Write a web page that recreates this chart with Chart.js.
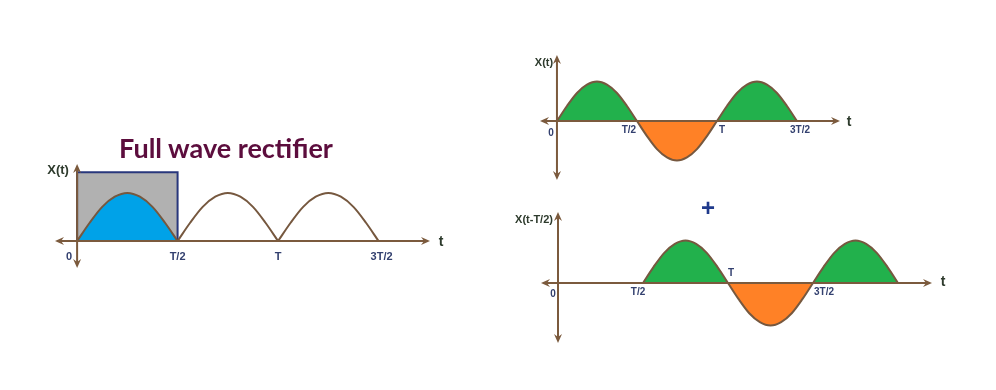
<!DOCTYPE html>
<html>
<head>
<meta charset="utf-8">
<title>Full wave rectifier</title>
<script src="https://cdn.jsdelivr.net/npm/chart.js@4.4.1/dist/chart.umd.min.js"></script>
<style>
  body { margin: 0; background: #fff; }
  #quadro { position: relative; width: 996px; height: 390px; overflow: hidden; }
  #quadro canvas { position: absolute; left: 0; top: 0; }
  .titulo {
    position: absolute; left: 226px; top: 133px; transform: translateX(-50%);
    font: bold 27px Lato, 'Liberation Sans', sans-serif; color: #5c0d3d;
    white-space: nowrap; line-height: 30px;
  }
  .mais {
    position: absolute; left: 708px; top: 208px; transform: translate(-50%, -50%);
    font: bold 24px 'Liberation Sans', sans-serif; color: #1f3a8c; line-height: 24px;
  }
</style>
</head>
<body>
<div id="quadro">
  <canvas id="chartRetificador" width="996" height="390"></canvas>
  <canvas id="chartSinal" width="996" height="390"></canvas>
  <canvas id="chartDeslocado" width="996" height="390"></canvas>
  <div class="titulo">Full wave rectifier</div>
  <div class="mais">+</div>
</div>
<script>
// tempo em unidades de T, de T/16 em T/16
const tempos = [0, 0.0625, 0.125, 0.1875, 0.25, 0.3125, 0.375, 0.4375, 0.5,
  0.5625, 0.625, 0.6875, 0.75, 0.8125, 0.875, 0.9375, 1,
  1.0625, 1.125, 1.1875, 1.25, 1.3125, 1.375, 1.4375, 1.5];
const retificado = [0, 0.38, 0.71, 0.92, 1, 0.92, 0.71, 0.38, 0,
  0.38, 0.71, 0.92, 1, 0.92, 0.71, 0.38, 0,
  0.38, 0.71, 0.92, 1, 0.92, 0.71, 0.38, 0];
const senoide = [0, 0.38, 0.71, 0.92, 1, 0.92, 0.71, 0.38, 0,
  -0.38, -0.71, -0.92, -1, -0.92, -0.71, -0.38, 0,
  0.38, 0.71, 0.92, 1, 0.92, 0.71, 0.38, 0];
const temposDeslocados = [0.5, 0.5625, 0.625, 0.6875, 0.75, 0.8125, 0.875, 0.9375, 1,
  1.0625, 1.125, 1.1875, 1.25, 1.3125, 1.375, 1.4375, 1.5,
  1.5625, 1.625, 1.6875, 1.75, 1.8125, 1.875, 1.9375, 2];
const senoideDeslocada = [0, 0.38, 0.71, 0.92, 1, 0.92, 0.71, 0.38, 0,
  -0.38, -0.71, -0.92, -1, -0.92, -0.71, -0.38, 0,
  0.38, 0.71, 0.92, 1, 0.92, 0.71, 0.38, 0];
// janela de meio periodo (retangulo cinza)
const janelaX = [0, 0, 0.5, 0.5];
const janelaY = [0, 1.43, 1.43, 0];
const tickValores = [0, 0.5, 1, 1.5];
const tickRotulos = ['0', 'T/2', 'T', '3T/2'];

const marrom = '#7b5a3d';
const corCurva = '#76583f';
const verde = '#22b14c';
const laranja = '#ff8126';
const azul = '#00a2e8';
const cinza = '#b1b1b1';
const marinho = '#28377c';
const corTick = '#33406f';
const corNome = '#2e3b2d';

function pontos(xs, ys) {
  return xs.map(function (x, i) { return { x: x, y: ys[i] }; });
}

function seta(ctx, px, py, dx, dy) {
  // ponta em (px, py) apontando na direcao (dx, dy)
  const nx = -dy, ny = dx;
  ctx.beginPath();
  ctx.moveTo(px, py);
  ctx.lineTo(px - dx * 9 + nx * 4, py - dy * 9 + ny * 4);
  ctx.lineTo(px - dx * 6, py - dy * 6);
  ctx.lineTo(px - dx * 9 - nx * 4, py - dy * 9 - ny * 4);
  ctx.closePath();
  ctx.fill();
}

const eixosPlugin = {
  id: 'eixos',
  afterDatasetsDraw(chart, args, opts) {
    const ctx = chart.ctx;
    const area = chart.chartArea;
    const x = chart.scales.x;
    const y = chart.scales.y;
    const x0 = x.getPixelForValue(0);
    const y0 = y.getPixelForValue(0);

    ctx.save();
    ctx.strokeStyle = marrom;
    ctx.fillStyle = marrom;
    ctx.lineWidth = 2;
    ctx.beginPath();
    ctx.moveTo(area.left + 4, y0);
    ctx.lineTo(area.right - 4, y0);
    ctx.moveTo(x0, area.top + 4);
    ctx.lineTo(x0, area.bottom - 4);
    ctx.stroke();
    seta(ctx, area.left, y0, -1, 0);
    seta(ctx, area.right, y0, 1, 0);
    seta(ctx, x0, area.top, 0, -1);
    seta(ctx, x0, area.bottom, 0, 1);

    ctx.textAlign = 'center';
    ctx.textBaseline = 'middle';
    ctx.font = 'bold ' + opts.tamTick + "px 'Liberation Sans', sans-serif";
    ctx.fillStyle = corTick;
    opts.valores.forEach(function (v, i) {
      const aj = opts.ajustes[i];
      ctx.fillText(opts.rotulos[i], x.getPixelForValue(v) + aj[0], y0 + aj[1]);
    });

    ctx.fillStyle = corNome;
    ctx.font = 'bold ' + opts.tamNome + "px 'Liberation Sans', sans-serif";
    ctx.fillText(opts.nomeY, x0 + opts.ajusteNomeY[0], area.top + opts.ajusteNomeY[1]);
    ctx.font = "bold 14px 'Liberation Sans', sans-serif";
    ctx.fillText('t', area.right + opts.ajusteNomeX[0], y0 + opts.ajusteNomeX[1]);
    ctx.restore();
  }
};

function opcoes(limX, limY, padding, eixos) {
  return {
    responsive: false,
    animation: false,
    events: [],
    layout: { padding: padding },
    elements: { point: { radius: 0 } },
    scales: {
      x: { type: 'linear', min: limX[0], max: limX[1], display: false },
      y: { type: 'linear', min: limY[0], max: limY[1], display: false }
    },
    plugins: {
      legend: { display: false },
      tooltip: { enabled: false },
      eixos: eixos
    }
  };
}

const curvaRet = pontos(tempos, retificado);

const graficoRetificador = new Chart(document.getElementById('chartRetificador'), {
  type: 'line',
  data: {
    datasets: [{
      data: curvaRet.slice(0, 9),
      borderColor: corCurva, borderWidth: 2,
      cubicInterpolationMode: 'monotone',
      fill: 'origin', backgroundColor: azul
    }, {
      data: curvaRet.slice(8, 17),
      borderColor: corCurva, borderWidth: 2,
      cubicInterpolationMode: 'monotone', fill: false
    }, {
      data: curvaRet.slice(16, 25),
      borderColor: corCurva, borderWidth: 2,
      cubicInterpolationMode: 'monotone', fill: false
    }, {
      data: pontos(janelaX, janelaY),
      borderColor: marinho, borderWidth: 2, tension: 0,
      fill: 'origin', backgroundColor: cinza
    }]
  },
  options: opcoes([-0.11, 1.756], [-0.56, 1.6],
    { left: 55, right: 566, top: 164, bottom: 122 },
    {
      valores: tickValores, rotulos: tickRotulos, tamTick: 11,
      ajustes: [[-8, 16], [0, 16], [0, 16], [3, 16]],
      nomeY: 'X(t)', tamNome: 13, ajusteNomeY: [-19, 6], ajusteNomeX: [11, 1]
    }),
  plugins: [eixosPlugin]
});

const graficoSinal = new Chart(document.getElementById('chartSinal'), {
  type: 'line',
  data: {
    datasets: [{
      data: pontos(tempos, senoide),
      borderColor: corCurva, borderWidth: 2,
      cubicInterpolationMode: 'monotone',
      fill: { target: 'origin', above: verde, below: laranja }
    }]
  },
  options: opcoes([-0.106, 1.769], [-1.49, 1.67],
    { left: 540, right: 156, top: 55, bottom: 210 },
    {
      valores: tickValores, rotulos: tickRotulos, tamTick: 10,
      ajustes: [[-6, 12], [-8, 9], [5, 9], [3, 9]],
      nomeY: 'X(t)', tamNome: 11, ajusteNomeY: [-13, 8], ajusteNomeX: [9, 1]
    }),
  plugins: [eixosPlugin]
});

const graficoDeslocado = new Chart(document.getElementById('chartDeslocado'), {
  type: 'line',
  data: {
    datasets: [{
      data: pontos(temposDeslocados, senoideDeslocada),
      borderColor: corCurva, borderWidth: 2,
      cubicInterpolationMode: 'monotone',
      fill: { target: 'origin', above: verde, below: laranja }
    }]
  },
  options: opcoes([-0.1, 2.2], [-1.41, 1.67],
    { left: 541, right: 64, top: 212, bottom: 47 },
    {
      valores: tickValores, rotulos: tickRotulos, tamTick: 10,
      ajustes: [[-5, 11], [-5, 9], [3, -10], [11, 9]],
      nomeY: 'X(t-T/2)', tamNome: 11, ajusteNomeY: [-24, 8], ajusteNomeX: [11, -1]
    }),
  plugins: [eixosPlugin]
});
</script>
</body>
</html>
